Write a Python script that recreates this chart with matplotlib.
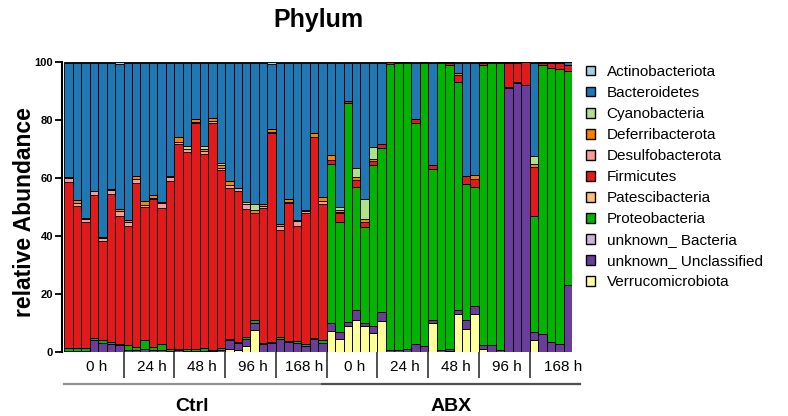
import numpy as np
import matplotlib
matplotlib.use("Agg")
import matplotlib.pyplot as plt
from matplotlib.patches import Patch
import matplotlib.transforms as mtransforms

plt.rcParams['font.family'] = ['Liberation Sans', 'DejaVu Sans']

# ---------------- data ----------------
phyla = ["Actinobacteriota", "Bacteroidetes", "Cyanobacteria", "Deferribacterota",
         "Desulfobacterota", "Firmicutes", "Patescibacteria", "Proteobacteria",
         "unknown_ Bacteria", "unknown_ Unclassified", "Verrucomicrobiota"]
colors = ["#a6cee3", "#1f78b4", "#b2df8a", "#ff7f00", "#fb9a99", "#e31a1c",
          "#fdbf6f", "#00b400", "#cab2d6", "#6a3d9a", "#ffff99"]

time_labels = ["0 h", "24 h", "48 h", "96 h", "168 h"]
ctrl_sizes = [7, 6, 6, 6, 6]
abx_sizes = [6, 6, 6, 6, 5]
treatments = ["Ctrl", "ABX"]

verruco = [0, 0, 0, 0, 0, 0, 0, 0, 0, 0, 0, 0, 0, 0, 0, 0, 0, 0, 0,
           0.9, 0.8, 2.1, 7.6, 0, 0, 0, 0, 0, 0, 0, 0,
           7.2, 4.6, 8.9, 11.2, 8.9, 6.6, 10.7, 0, 0, 0, 0, 0,
           10.0, 0, 0.5, 13.2, 8.1, 13.2, 1.2, 0, 0, 0, 0, 0, 4.3, 0, 0, 0, 0]
unk_uncl = [0.5, 0.4, 0.4, 4.0, 3.1, 2.7, 2.3, 0.8, 0.8, 1.2, 0.8, 0.8, 0.3,
            0.8, 0.5, 0.4, 0.5, 0.4, 0.6, 3.3, 2.2, 2.5, 2.4, 2.9, 3.1,
            4.6, 3.5, 3.1, 2.0, 4.6, 3.1,
            2.8, 2.3, 1.5, 3.2, 1.2, 2.3, 3.1, 0.8, 0.6, 0.9, 2.9, 2.0,
            1.2, 0.8, 0.5, 1.2, 3.1, 2.5, 1.2, 2.3, 0.6, 90.9, 92.6, 92.0,
            2.6, 6.3, 3.5, 2.9, 23.0]
unk_bact = [0] * 60
proteo = [0.8, 0.9, 1.0, 0.8, 0.9, 0.9, 0.6, 1.6, 0.9, 2.9, 0.9, 2.1, 0.8,
          0.4, 0.5, 0.5, 0.8, 0.3, 0.8, 0.3, 0.4, 0.6, 1.2, 0.3, 0.2,
          0.7, 0.4, 0.7, 0.8, 0.3, 0.9,
          55.0, 38.0, 75.6, 42.6, 33.1, 55.5, 56.4, 98.5, 99.1, 98.8, 75.9, 97.8,
          51.8, 99.0, 97.9, 78.8, 46.9, 41.3, 96.5, 97.2, 99.0, 0.5, 0.5, 0.2,
          39.9, 92.6, 94.3, 94.6, 74.0]
patesci = [0] * 60
firmic = [57.4, 49.0, 43.3, 49.3, 34.3, 50.8, 44.1, 41.0, 56.6, 46.0, 50.9, 46.9, 57.9,
          70.5, 68.0, 77.9, 66.9, 78.4, 61.3, 51.9, 52.2, 44.2, 36.6, 46.6, 72.1,
          36.7, 47.5, 39.6, 45.2, 69.1, 46.9,
          1.1, 3.1, 0.5, 2.3, 1.7, 1.5, 1.4, 0.7, 0.3, 0.3, 1.7, 0.2,
          1.5, 0.2, 0.8, 2.3, 2.5, 2.5, 0.8, 0, 0, 8.1, 6.4, 7.8,
          17.1, 0.8, 1.7, 2.3, 2.0]
desulfo = [1.2, 1.0, 1.3, 1.3, 1.1, 1.3, 1.7, 1.4, 1.5, 0.5, 0.4, 1.6, 1.4,
           0.8, 0.9, 0.5, 1.2, 0.5, 0.9, 1.2, 0.8, 1.5, 0.3, 0.4, 0.4,
           1.5, 0.3, 1.8, 0.6, 0.3, 1.2,
           0, 0.3, 0, 0, 0, 0, 0, 0, 0, 0, 0, 0,
           0, 0, 0, 0, 0, 0, 0, 0, 0, 0, 0, 0, 0, 0, 0, 0, 0]
deferri = [0.3, 1.2, 0.2, 0.2, 0.2, 0.4, 0.6, 0.8, 1.0, 1.5, 1.2, 0.2, 0.2,
           1.5, 0.2, 1.2, 0.7, 1.0, 0.8, 1.4, 0.3, 0.3, 0.9, 0.8, 1.2,
           0.8, 1.0, 0.2, 0.4, 1.1, 1.2,
           1.7, 0.5, 0, 1.1, 0.8, 0.8, 0, 0, 0, 0, 0, 0,
           0, 0, 0, 0.8, 0, 1.5, 0, 0, 0, 0, 0, 0, 1.1, 0, 0, 0, 0]
cyano = [0, 0, 0, 0, 0, 0, 0, 0, 0, 0, 0, 0, 0,
         0, 0.8, 0, 0.9, 0, 0.8, 0, 0, 0.6, 1.9, 0, 0,
         0, 0, 0, 0, 0, 0,
         0, 1.1, 0, 2.9, 6.9, 4.0, 0, 0, 0, 0, 0, 0,
         0, 0, 0, 0, 0, 0, 0, 0, 0, 0, 0, 0, 2.5, 0, 0, 0, 0]
bacteroid = [39.5, 47.3, 53.3, 44.1, 60.1, 43.6, 49.9, 54.1, 38.9, 47.6, 45.5, 48.1, 39.1,
             25.7, 28.8, 19.2, 28.7, 19.1, 34.5, 40.6, 43.0, 48.0, 48.8, 48.7, 22.2,
             55.4, 47.0, 54.3, 50.7, 24.3, 46.4,
             32.0, 49.8, 13.2, 36.4, 47.1, 29.0, 28.1, 0, 0, 0, 19.2, 0,
             35.2, 0, 0.3, 3.5, 39.1, 38.7, 0.3, 0.5, 0.4, 0.5, 0.5, 0,
             32.2, 0.3, 0.5, 0.2, 1.0]
actino = [0.3, 0.2, 0.5, 0.3, 0.3, 0.3, 0.8, 0.3, 0.3, 0.3, 0.3, 0.3, 0.3,
          0.3, 0.3, 0.3, 0.3, 0.3, 0.3, 0.4, 0.3, 0.2, 0.3, 0.3, 0.8,
          0.3, 0.3, 0.3, 0.3, 0.3, 0.3,
          0.2, 0.3, 0.3, 0.3, 0.3, 0.3, 0.3, 0, 0, 0, 0.3, 0,
          0.3, 0, 0, 0.2, 0.3, 0.3, 0, 0, 0, 0, 0, 0, 0.3, 0, 0, 0, 0]

# legend order (top of stack first)
series = [actino, bacteroid, cyano, deferri, desulfo, firmic,
          patesci, proteo, unk_bact, unk_uncl, verruco]

# ---------------- figure ----------------
W, H = 788, 416
fig = plt.figure(figsize=(W / 100, H / 100), dpi=100)
ax_left, ax_right, ax_top, ax_bot = 62.2, 572.0, 62.0, 352.0
ax = fig.add_axes([ax_left / W, 1 - ax_bot / H, (ax_right - ax_left) / W, (ax_bot - ax_top) / H])

n = len(verruco)
x = np.arange(n)
bottom = np.zeros(n)
for idx in range(len(phyla) - 1, -1, -1):
    vals = np.array(series[idx], dtype=float)
    ax.bar(x, vals, bottom=bottom, width=1.0, color=colors[idx],
           edgecolor="black", linewidth=0.65, zorder=2)
    bottom += vals

ax.set_xlim(-0.75, 59.5)
ax.set_ylim(0, 100)
ax.set_yticks([0, 20, 40, 60, 80, 100])
ax.tick_params(axis="y", length=5, width=1.3, labelsize=8, pad=1.5)
for lab in ax.get_yticklabels():
    lab.set_fontweight("bold")
for s in ["top", "right", "bottom"]:
    ax.spines[s].set_visible(False)
ax.spines["left"].set_linewidth(1.5)

# group ticks / labels
sizes = ctrl_sizes + abx_sizes
edges = np.cumsum([0] + sizes) - 0.5
centers = (edges[:-1] + edges[1:]) / 2 + 0.3
centers[-1] += 1.2
ax.set_xticks(centers)
ax.set_xticklabels(time_labels * 2, fontsize=11)
ax.set_xticks(edges[1:-1], minor=True)
ax.tick_params(axis="x", which="major", length=0, pad=6)
ax.tick_params(axis="x", which="minor", length=19, width=1.2, color="#333333")

# treatment lines and labels
trans = mtransforms.blended_transform_factory(ax.transData, ax.transAxes)
n_ctrl = sum(ctrl_sizes)
ax.plot([-0.53, n_ctrl - 1.3], [-0.110, -0.110], transform=trans, color="#909090",
        lw=1.6, clip_on=False)
ax.plot([n_ctrl - 1.05, n + 0.45], [-0.110, -0.110], transform=trans, color="#505050",
        lw=1.6, clip_on=False)
ax.text((-0.53 + n_ctrl - 1.3) / 2, -0.188, treatments[0], transform=trans,
        ha="center", va="center", fontsize=14, fontweight="bold")
ax.text((n_ctrl - 1.05 + n + 0.45) / 2, -0.188, treatments[1], transform=trans,
        ha="center", va="center", fontsize=14, fontweight="bold")

# title & y label
fig.text(318 / W, 1 - 20 / H, "Phylum", ha="center", va="center",
         fontsize=18, fontweight="bold")
fig.text(25 / W, 1 - 212 / H, "relative Abundance", rotation=90, ha="center",
         va="center", fontsize=16.5, fontweight="bold")

# legend
handles = [Patch(facecolor=c, edgecolor="black", linewidth=1.0) for c in colors]
fig.legend(handles, phyla, loc="upper left", bbox_to_anchor=(586 / W, 1 - 65 / H),
           frameon=False, fontsize=11, handlelength=0.6, handleheight=0.6,
           handletextpad=0.75, labelspacing=0.46, borderpad=0, borderaxespad=0)

fig.savefig("out.png", dpi=100)
